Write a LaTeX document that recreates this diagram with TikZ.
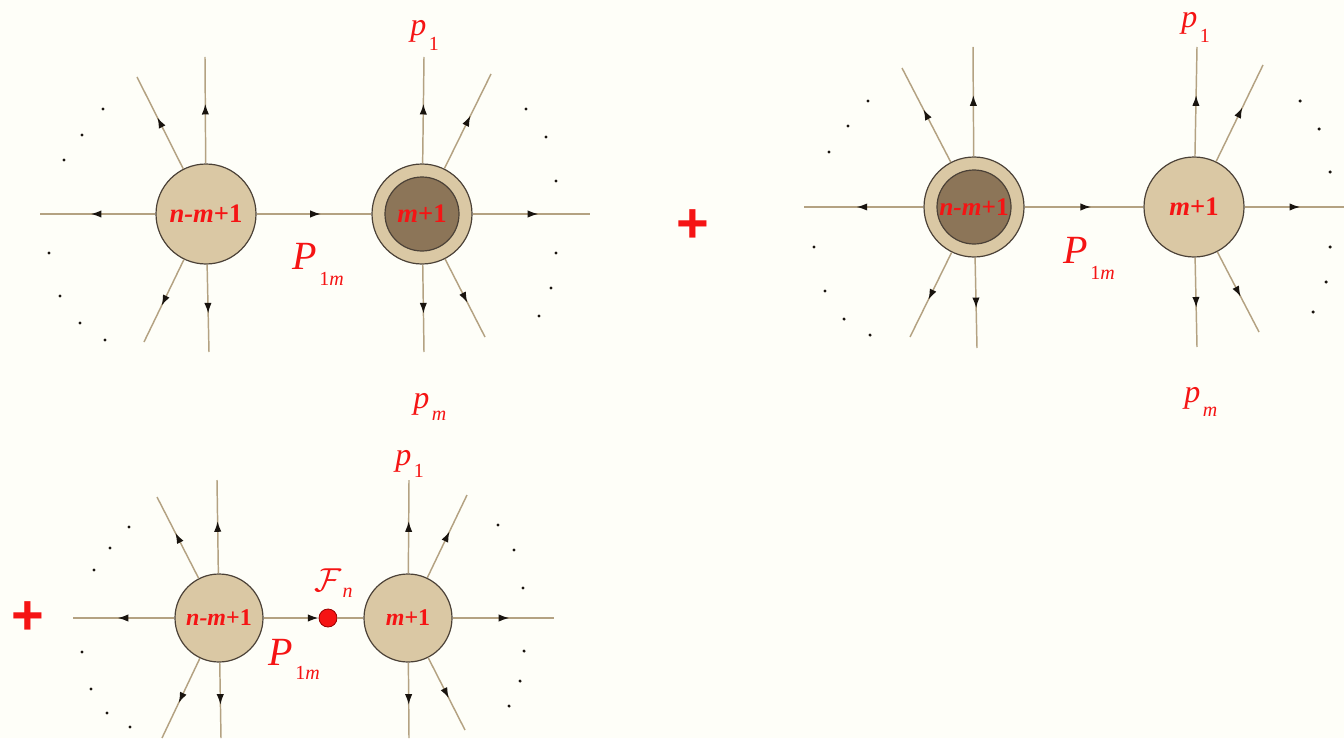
\documentclass[tikz,border=0pt]{standalone}
\usepackage{fontspec}
\setmainfont{Liberation Serif}
\newfontfamily\plusfont{Liberation Sans}
\usetikzlibrary{arrows.meta,decorations.markings}
\definecolor{bgc}{RGB}{254,254,248}
\definecolor{linec}{RGB}{180,162,130}
\definecolor{fillc}{RGB}{218,200,164}
\definecolor{darkc}{RGB}{140,117,88}
\definecolor{edgec}{RGB}{75,65,55}
\definecolor{redc}{RGB}{245,20,20}
\definecolor{arrc}{RGB}{25,20,15}
\newcommand\lbl[3]{\textit{#1}\kern2pt\raisebox{-#3}{\fontsize{15}{15}\selectfont #2}}
\begin{document}
\begin{tikzpicture}[x=0.75pt,y=-0.75pt,
 blob/.style={circle,draw=edgec,line width=0.9pt,fill=fillc,minimum size=75pt,inner sep=0pt,text=redc,font=\fontsize{20}{20}\selectfont\bfseries},
 sblob/.style={blob,minimum size=66pt,font=\fontsize{18}{18}\selectfont\bfseries},
 core/.style={circle,draw=edgec,line width=0.9pt,fill=darkc,minimum size=55.5pt,inner sep=0pt,text=redc,font=\fontsize{20}{20}\selectfont\bfseries},
 wire/.style={draw=linec,line width=1.1pt},
 leg/.style={wire,postaction={decorate},decoration={markings,mark=at position #1 with {\arrow{Latex[length=8pt,width=5.5pt,color=arrc]}}}},
 leg/.default=0.56,
 smalldot/.style={circle,fill=arrc,inner sep=0pt,minimum size=2.6pt},
 lab/.style={text=redc,inner sep=0pt,anchor=base west,font=\fontsize{24}{24}\selectfont},
 biglab/.style={lab,font=\fontsize{30}{30}\selectfont},
 plus/.style={text=redc,font=\plusfont\fontsize{42}{42}\selectfont\bfseries,inner sep=0pt}
]
\fill[bgc] (0,0) rectangle (1344,738);
\useasboundingbox (0,0) rectangle (1344,738);

% ---------- top-left ----------
\node[blob] (a1) at (206,214) {\textit{n-m}+1};
\node[blob] (a2) at (422,214) {};
\node[core] (a2c) at (422,214) {\textit{m}+1};
\coordinate (a1l) at (40,214);
\coordinate (a1u) at (205,57);
\coordinate (a1ul) at (137,77);
\coordinate (a1dl) at (144,342);
\coordinate (a1d) at (209,352);
\coordinate (a2r) at (590,214);
\coordinate (a2u) at (424,57);
\coordinate (a2ur) at (491,74);
\coordinate (a2d) at (424,352);
\coordinate (a2dr) at (485,337);
\foreach \e in {a1l,a1u,a1ul,a1dl,a1d} \draw[leg] (a1) -- (\e);
\foreach \e in {a2r,a2u,a2ur,a2d,a2dr} \draw[leg] (a2) -- (\e);
\draw[leg] (a1) -- (a2);
\foreach \p [count=\i] in {(103,109),(82,135),(64,160),(49,253),(60,296),(80,323),(105,340),
  (526,109),(546,137),(556,181),(556,253),(551,288),(539,316)}
  \node[smalldot] (ad\i) at \p {};
\node[lab] (a2top) at (410,36) {\lbl{p}{1}{11pt}};
\node[lab] (a2bot) at (413,408) {\lbl{p}{\textit{m}}{9pt}};
\node[biglab] (a12) at (292,269) {\lbl{P}{1\textit{m}}{12pt}};

% plus sign between top diagrams
\node[plus] (plus1) at (693,226) {+};

% ---------- top-right ----------
\node[blob] (b1) at (974,207) {};
\node[core] (b1c) at (974,207) {\fontsize{19}{19}\selectfont\textit{n-m}+1};
\node[blob] (b2) at (1194,207) {\textit{m}+1};
\coordinate (b1l) at (804,207);
\coordinate (b1u) at (973,47);
\coordinate (b1ul) at (902,68);
\coordinate (b1dl) at (910,337);
\coordinate (b1d) at (977,348);
\coordinate (b2r) at (1344,207);
\coordinate (b2u) at (1197,47);
\coordinate (b2ur) at (1263,65);
\coordinate (b2d) at (1197,347);
\coordinate (b2dr) at (1259,332);
\foreach \e in {b1l,b1u,b1ul,b1dl,b1d} \draw[leg] (b1) -- (\e);
\foreach \e in {b2r,b2u,b2ur,b2d,b2dr} \draw[leg] (b2) -- (\e);
\draw[leg] (b1) -- (b2);
\foreach \p [count=\i] in {(868,101),(848,126),(829,152),(814,247),(825,291),(844,319),(870,335),
  (1300,101),(1319,129),(1330,172),(1330,247),(1326,282),(1313,312)}
  \node[smalldot] (bd\i) at \p {};
\node[lab] (b2top) at (1181,28) {\lbl{p}{1}{11pt}};
\node[lab] (b2bot) at (1184,402) {\lbl{p}{\textit{m}}{11pt}};
\node[biglab] (b12) at (1063,263) {\lbl{P}{1\textit{m}}{12.5pt}};

% ---------- bottom ----------
\node[plus] (plus2) at (28,618) {+};
\node[sblob] (c1) at (219,618) {\textit{n-m}+1};
\node[sblob] (c2) at (408,618) {\textit{m}+1};
\node[circle,fill=redc,draw=red!60!black,line width=0.6pt,minimum size=13.5pt,inner sep=0pt] (f) at (328,618) {};
\coordinate (c1l) at (73,618);
\coordinate (c1u) at (217,480);
\coordinate (c1ul) at (157,497);
\coordinate (c1dl) at (162,738);
\coordinate (c1d) at (221,738);
\coordinate (c2r) at (554,618);
\coordinate (c2u) at (409,480);
\coordinate (c2ur) at (467,495);
\coordinate (c2d) at (409,738);
\coordinate (c2dr) at (465,730);
\foreach \e in {c1l,c1u,c1ul,c1dl,c1d} \draw[leg] (c1) -- (\e);
\foreach \e in {c2r,c2u,c2ur,c2d,c2dr} \draw[leg] (c2) -- (\e);
\draw[wire,-{Latex[length=8pt,width=5.5pt,color=arrc]}] (c1) -- (f);
\draw[wire] (f) -- (c2);
\foreach \p [count=\i] in {(129,527),(110,548),(94,570),(82,652),(91,689),(107,713),(130,727),
  (498,525),(514,550),(523,588),(524,651),(520,681),(509,706)}
  \node[smalldot] (cd\i) at \p {};
\node[lab] (c2top) at (395,465) {\lbl{p}{1}{9pt}};
\node[lab,font=\fontsize{28}{28}\selectfont] (fn) at (314,591) {$\mathcal{F}$\kern1pt\raisebox{-5pt}{\fontsize{15}{15}\selectfont\textit{n}}};
\node[biglab] (c12) at (268,665) {\lbl{P}{1\textit{m}}{11pt}};
\end{tikzpicture}
\end{document}
